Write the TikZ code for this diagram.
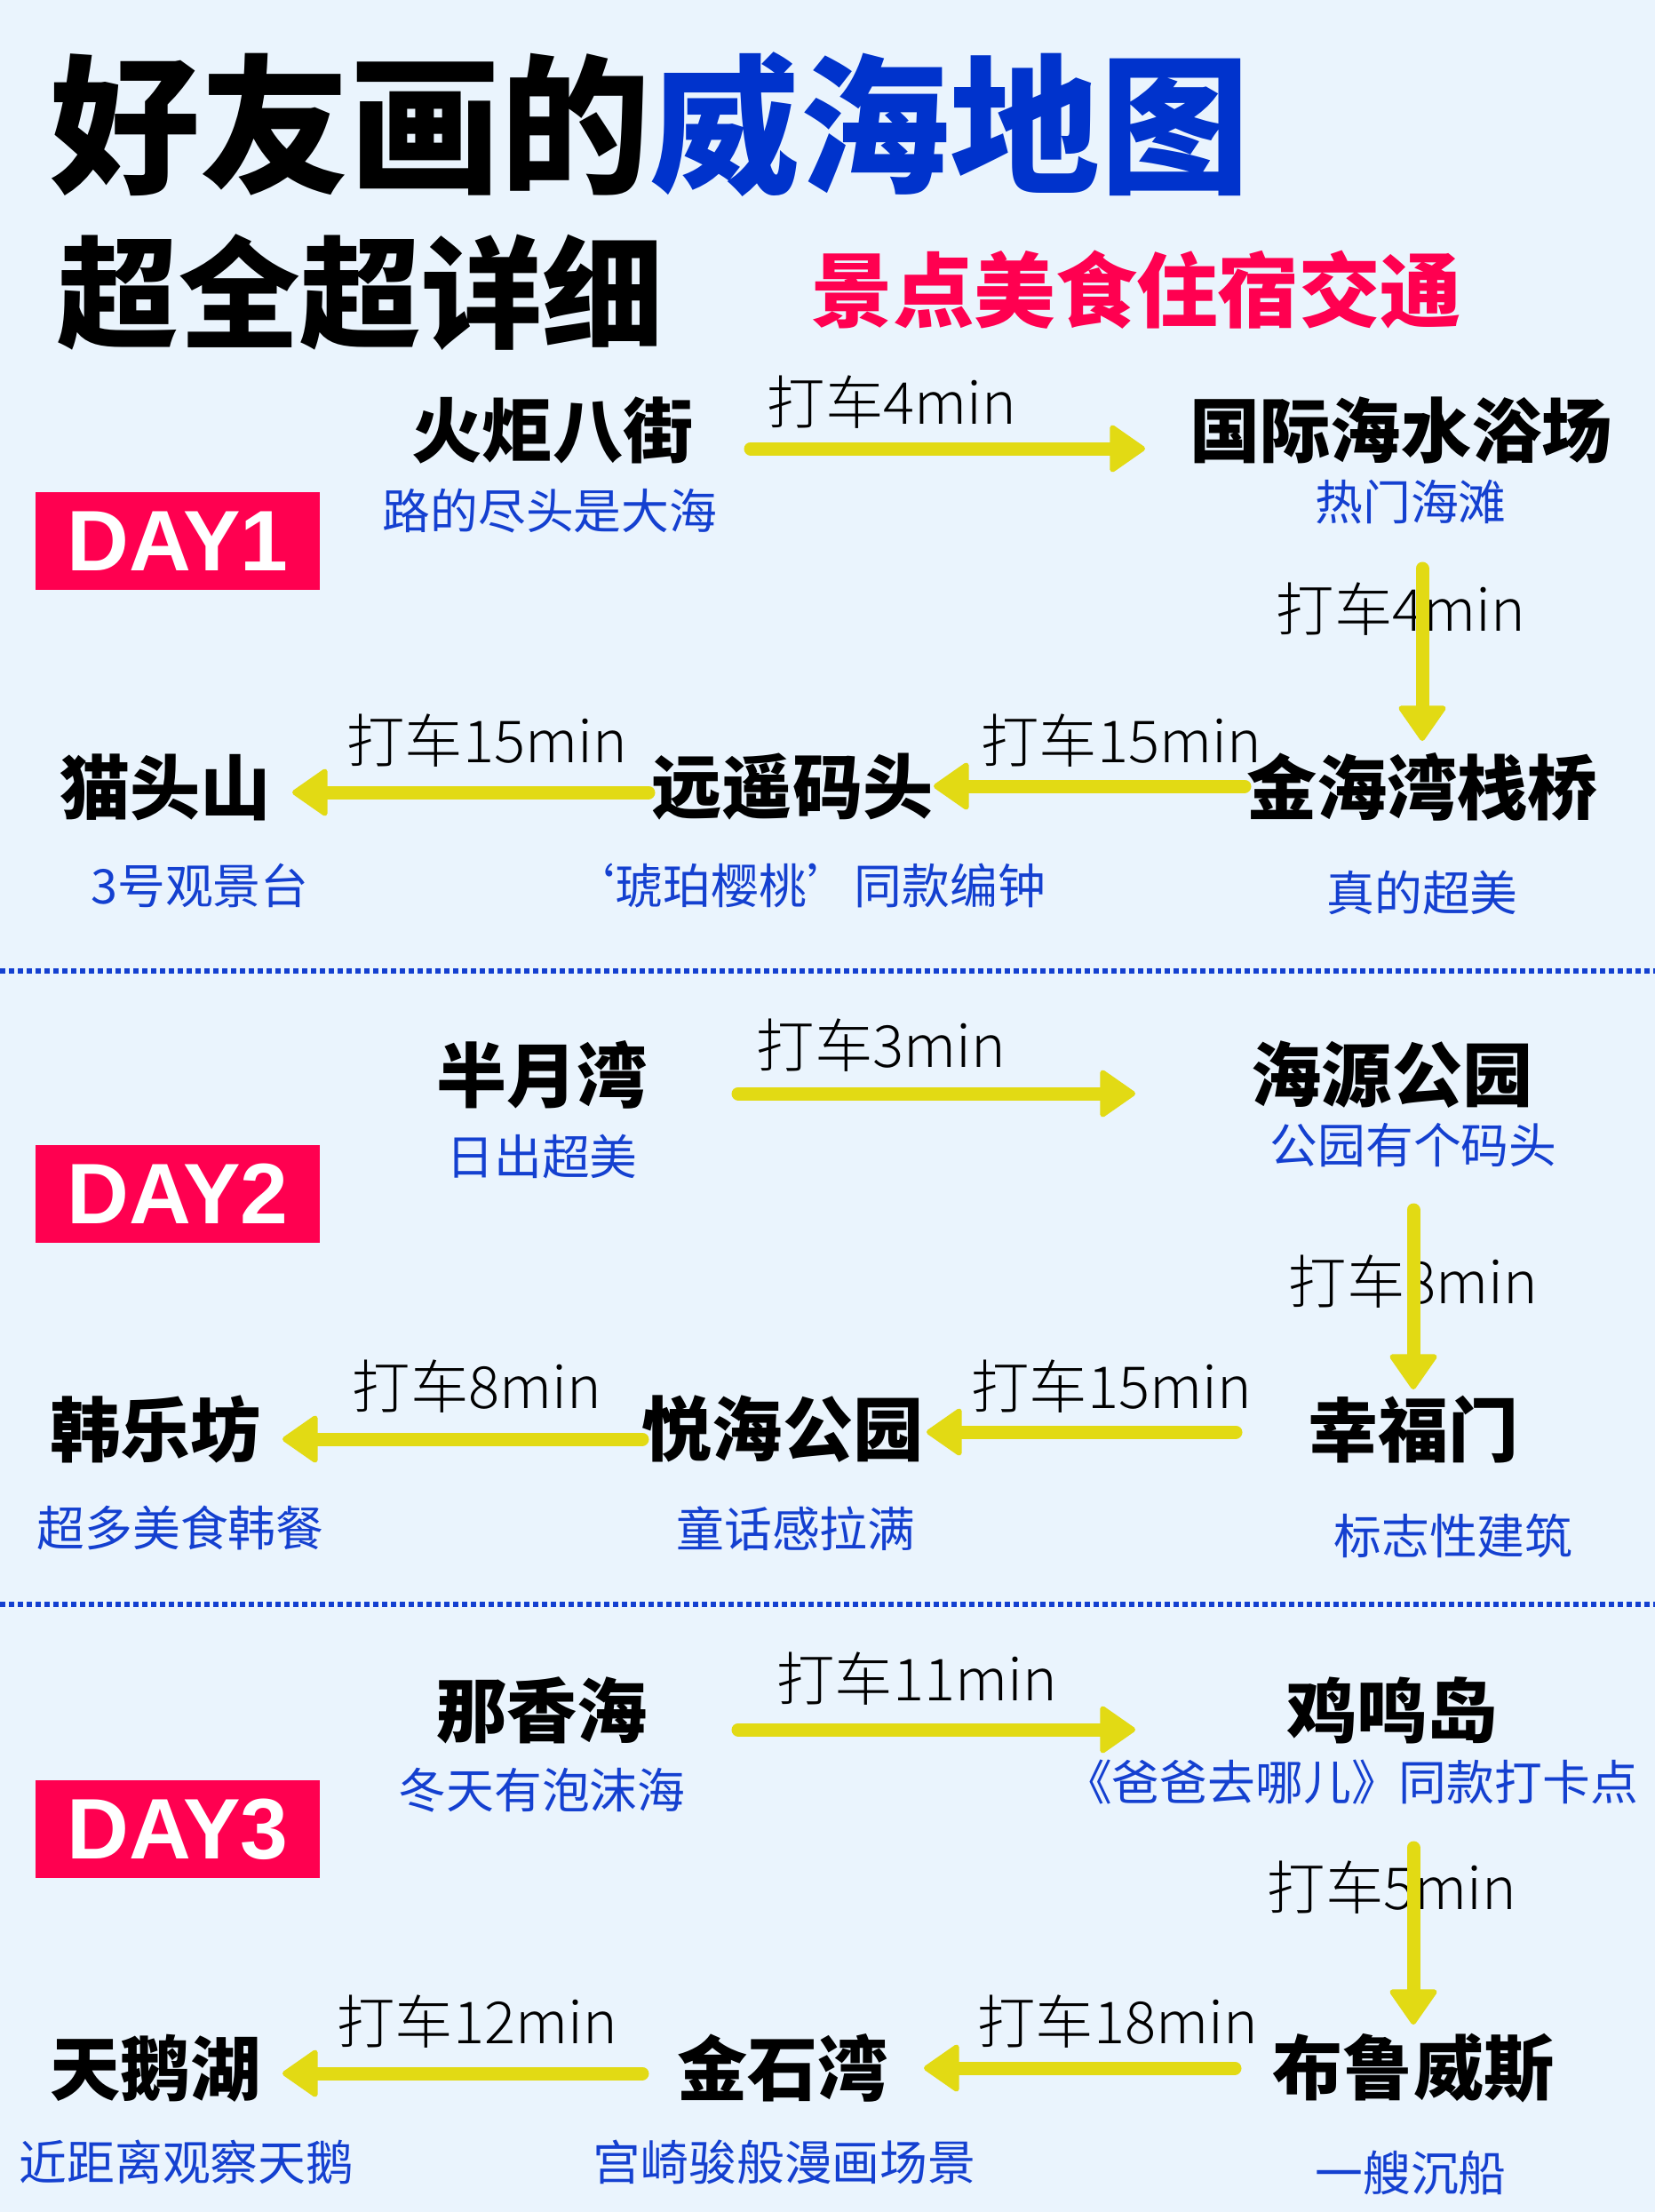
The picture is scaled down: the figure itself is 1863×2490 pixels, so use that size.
\documentclass[tikz,border=0pt]{standalone}
\usepackage{fontspec}
\setmainfont{Noto Sans CJK SC}
\newfontfamily\heavyfont{Noto Sans CJK SC Black}
\newfontfamily\lightfont{Noto Sans CJK SC Light}
\newfontfamily\dayfont{Liberation Sans}
\usetikzlibrary{arrows.meta}
\definecolor{bgblue}{RGB}{234,244,253}
\definecolor{ttlblue}{RGB}{0,51,204}
\definecolor{subblue}{RGB}{20,64,208}
\definecolor{daypink}{RGB}{255,0,80}
\definecolor{roadyel}{RGB}{226,218,20}
\begin{document}
\begin{tikzpicture}[x=0.01cm,y=-0.01cm,
  place/.style={font=\fontsize{22.5}{24}\selectfont\heavyfont,inner sep=0pt},
  note/.style={font=\fontsize{15.3}{17}\selectfont,text=subblue,inner sep=0pt},
  ride/.style={font=\fontsize{18.6}{20}\selectfont\lightfont,inner sep=0pt},
  go/.style={roadyel,line width=0.15cm,line cap=round,
    -{Triangle[length=0.42cm,width=0.57cm,round,line width=0.06cm]}},
  daybox/.style={fill=daypink,text=white,minimum width=3.2cm,minimum height=1.1cm,
    inner sep=0pt,font=\dayfont\bfseries\fontsize{27.5}{29}\selectfont},
  sep/.style={subblue,line width=0.06cm,dash pattern=on 0.06cm off 0.04cm}]
\useasboundingbox (0,0) rectangle (1863,2490);
\fill[bgblue] (0,0) rectangle (1863,2490);
% titles
\node[anchor=west,inner sep=0pt,font=\fontsize{48}{50}\selectfont\heavyfont] (ttl) at (56,140) {好友画的\textcolor{ttlblue}{威海地图}};
\node[anchor=west,inner sep=0pt,font=\fontsize{38.8}{40}\selectfont\heavyfont] (ttla) at (64,329) {超全超详细};
\node[anchor=west,inner sep=0pt,text=daypink,font=\fontsize{26}{28}\selectfont\heavyfont] (ttlb) at (913,326) {景点美食住宿交通};
% day 1
\node[daybox] (d1) at (200,609) {DAY1};
\node[place] (hj) at (622,484) {火炬八街};
\node[note] (hjn) at (619,575) {路的尽头是大海};
\node[place] (gj) at (1577,484) {国际海水浴场};
\node[note] (gjn) at (1588,565) {热门海滩};
\node[place] (jh) at (1601,886) {金海湾栈桥};
\node[note] (jhn) at (1601,1005) {真的超美};
\node[place] (yy) at (892,886) {远遥码头};
\node[note] (yyn) at (908,997) {‘琥珀樱桃’同款编钟};
\node[place] (mt) at (186,886) {猫头山};
\node[note] (mtn) at (225,997) {3号观景台};
\node[ride] (r1) at (1004,453) {打车4min};
\node[ride] (r2) at (1577,686) {打车4min};
\node[ride] (r3) at (1262,834) {打车15min};
\node[ride] (r4) at (548,834) {打车15min};
\draw[go] ([shift={(223,21)}]hj.center) -- ([shift={(-288,21)}]gj.center);
\draw[go] ([shift={(24,156)}]gj.center) -- ([shift={(0,-52)}]jh.center);
\draw[go] ([shift={(-200,-1)}]jh.center) -- ([shift={(159,-1)}]yy.center);
\draw[go] ([shift={(-162,6)}]yy.center) -- ([shift={(143,6)}]mt.center);
\draw[sep] (0,1093) -- (1863,1093);
% day 2
\node[daybox] (d2) at (200,1344) {DAY2};
\node[place] (bm) at (610,1210) {半月湾};
\node[note] (bmn) at (610,1302) {日出超美};
\node[place] (hy) at (1567,1210) {海源公园};
\node[note] (hyn) at (1591,1289) {公园有个码头};
\node[place] (xf) at (1591,1609) {幸福门};
\node[note] (xfn) at (1636,1729) {标志性建筑};
\node[place] (yh) at (881,1609) {悦海公园};
\node[note] (yhn) at (896,1721) {童话感拉满};
\node[place] (hl) at (175,1609) {韩乐坊};
\node[note] (hln) at (203,1720) {超多美食韩餐};
\node[ride] (s1) at (992,1177) {打车3min};
\node[ride] (s2) at (1591,1443) {打车8min};
\node[ride] (s3) at (1251,1561) {打车15min};
\node[ride] (s4) at (537,1561) {打车8min};
\draw[go] ([shift={(221,21)}]bm.center) -- ([shift={(-289,21)}]hy.center);
\draw[go] ([shift={(24,152)}]hy.center) -- ([shift={(0,-45)}]xf.center);
\draw[go] ([shift={(-200,3)}]xf.center) -- ([shift={(162,3)}]yh.center);
\draw[go] ([shift={(-158,11)}]yh.center) -- ([shift={(143,11)}]hl.center);
\draw[sep] (0,1806) -- (1863,1806);
% day 3
\node[daybox] (d3) at (200,2059) {DAY3};
\node[place] (nx) at (610,1925) {那香海};
\node[note] (nxn) at (610,2015) {冬天有泡沫海};
\node[place] (jm) at (1567,1925) {鸡鸣岛};
\node[note] (jmn) at (1521,2006) {《爸爸去哪儿》同款打卡点};
\node[place] (bl) at (1591,2328) {布鲁威斯};
\node[note] (bln) at (1588,2446) {一艘沉船};
\node[place] (js) at (881,2328) {金石湾};
\node[note] (jsn) at (883,2434) {宫崎骏般漫画场景};
\node[place] (te) at (175,2328) {天鹅湖};
\node[note] (ten) at (210,2434) {近距离观察天鹅};
\node[ride] (t1) at (1032,1890) {打车11min};
\node[ride] (t2) at (1567,2125) {打车5min};
\node[ride] (t3) at (1258,2276) {打车18min};
\node[ride] (t4) at (537,2276) {打车12min};
\draw[go] ([shift={(221,22)}]nx.center) -- ([shift={(-289,22)}]jm.center);
\draw[go] ([shift={(24,155)}]jm.center) -- ([shift={(0,-49)}]bl.center);
\draw[go] ([shift={(-201,0)}]bl.center) -- ([shift={(159,0)}]js.center);
\draw[go] ([shift={(-158,6)}]js.center) -- ([shift={(143,6)}]te.center);
\end{tikzpicture}
\end{document}
